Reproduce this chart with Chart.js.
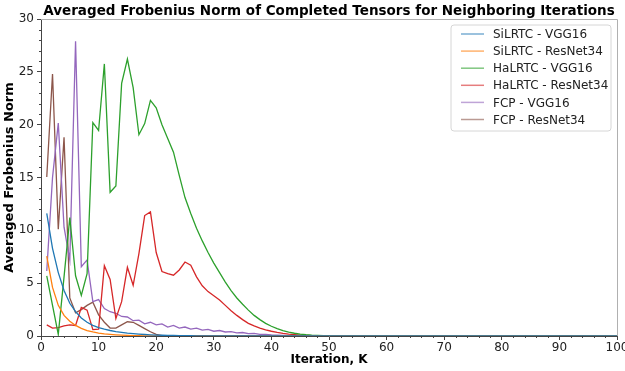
<!DOCTYPE html>
<html>
<head>
<meta charset="utf-8">
<script src="https://cdn.jsdelivr.net/npm/chart.js@4.4.1/dist/chart.umd.min.js"></script>
<style>
  html, body { margin: 0; padding: 0; background: #fff; }
  #wrap { width: 625px; height: 371px; }
</style>
</head>
<body>
<div id="wrap"><canvas id="normChart" width="625" height="371"></canvas></div>
<script>
// Iteration index K
const iterations = [
  1, 2, 3, 4, 5, 6, 7, 8, 9, 10, 11, 12, 13, 14, 15, 16, 17, 18, 19, 20,
  21, 22, 23, 24, 25, 26, 27, 28, 29, 30, 31, 32, 33, 34, 35, 36, 37, 38, 39, 40,
  41, 42, 43, 44, 45, 46, 47, 48, 49, 50, 51, 52, 53, 54, 55, 56, 57, 58, 59, 60,
  61, 62, 63, 64, 65, 66, 67, 68, 69, 70, 71, 72, 73, 74, 75, 76, 77, 78, 79, 80,
  81, 82, 83, 84, 85, 86, 87, 88, 89, 90, 91, 92, 93, 94, 95, 96, 97, 98, 99, 100
];

const silrtcVgg16 = [
  11.6, 8.3, 6.0, 4.3, 3.1, 2.3, 1.7, 1.3, 1.0, 0.8, 0.65, 0.52, 0.42, 0.34, 0.27, 0.22, 0.18, 0.14, 0.11, 0.09,
  0.07, 0.06, 0.05, 0.04, 0.03, 0.025, 0.02, 0.015, 0.01, 0.01, 0, 0, 0, 0, 0, 0, 0, 0, 0, 0,
  0, 0, 0, 0, 0, 0, 0, 0, 0, 0, 0, 0, 0, 0, 0, 0, 0, 0, 0, 0,
  0, 0, 0, 0, 0, 0, 0, 0, 0, 0, 0, 0, 0, 0, 0, 0, 0, 0, 0, 0,
  0, 0, 0, 0, 0, 0, 0, 0, 0, 0, 0, 0, 0, 0, 0, 0, 0, 0, 0, 0
];

const silrtcResNet34 = [
  7.55, 4.6, 2.9, 1.95, 1.4, 1.0, 0.72, 0.52, 0.38, 0.28, 0.2, 0.15, 0.11, 0.08, 0.06, 0.04, 0.03, 0.02, 0.015, 0.01,
  0, 0, 0, 0, 0, 0, 0, 0, 0, 0, 0, 0, 0, 0, 0, 0, 0, 0, 0, 0,
  0, 0, 0, 0, 0, 0, 0, 0, 0, 0, 0, 0, 0, 0, 0, 0, 0, 0, 0, 0,
  0, 0, 0, 0, 0, 0, 0, 0, 0, 0, 0, 0, 0, 0, 0, 0, 0, 0, 0, 0,
  0, 0, 0, 0, 0, 0, 0, 0, 0, 0, 0, 0, 0, 0, 0, 0, 0, 0, 0, 0
];

const halrtcVgg16 = [
  5.7, 2.9, 0.15, 5.6, 11.2, 5.7, 3.85, 5.9, 20.2, 19.45, 25.75, 13.6, 14.2, 23.9, 26.2, 23.5, 19.05, 20.1, 22.3, 21.6,
  20.0, 18.7, 17.4, 15.2, 13.1, 11.6, 10.2, 9.0, 7.9, 6.9, 6.0, 5.1, 4.3, 3.6, 3.0, 2.45, 1.95, 1.55, 1.2, 0.92,
  0.7, 0.5, 0.36, 0.26, 0.18, 0.12, 0.08, 0.06, 0.04, 0.03, 0.02, 0.015, 0.01, 0.01, 0.005, 0, 0, 0, 0, 0,
  0, 0, 0, 0, 0, 0, 0, 0, 0, 0, 0, 0, 0, 0, 0, 0, 0, 0, 0, 0,
  0, 0, 0, 0, 0, 0, 0, 0, 0, 0, 0, 0, 0, 0, 0, 0, 0, 0, 0, 0
];

const halrtcResNet34 = [
  1.05, 0.75, 0.8, 0.95, 1.05, 1.0, 2.7, 2.45, 0.6, 0.65, 6.65, 5.35, 1.65, 3.25, 6.5, 4.8, 7.8, 11.4, 11.75, 7.9,
  6.1, 5.9, 5.75, 6.25, 7.0, 6.7, 5.6, 4.75, 4.2, 3.8, 3.4, 2.9, 2.4, 1.95, 1.55, 1.2, 0.95, 0.75, 0.58, 0.45,
  0.34, 0.25, 0.18, 0.13, 0.09, 0.06, 0.04, 0.03, 0.02, 0.015, 0.01, 0.01, 0.005, 0, 0, 0, 0, 0, 0, 0,
  0, 0, 0, 0, 0, 0, 0, 0, 0, 0, 0, 0, 0, 0, 0, 0, 0, 0, 0, 0,
  0, 0, 0, 0, 0, 0, 0, 0, 0, 0, 0, 0, 0, 0, 0, 0, 0, 0, 0, 0
];

const fcpVgg16 = [
  6.15, 15.0, 20.15, 10.3, 7.2, 27.9, 6.55, 7.2, 3.25, 3.45, 2.6, 2.3, 2.15, 1.85, 1.8, 1.45, 1.5, 1.15, 1.3, 1.05,
  1.15, 0.85, 1.0, 0.75, 0.85, 0.65, 0.75, 0.55, 0.62, 0.45, 0.52, 0.38, 0.42, 0.3, 0.33, 0.22, 0.25, 0.15, 0.16, 0.1,
  0.08, 0.06, 0.04, 0.03, 0.02, 0.01, 0, 0, 0, 0, 0, 0, 0, 0, 0, 0, 0, 0, 0, 0,
  0, 0, 0, 0, 0, 0, 0, 0, 0, 0, 0, 0, 0, 0, 0, 0, 0, 0, 0, 0,
  0, 0, 0, 0, 0, 0, 0, 0, 0, 0, 0, 0, 0, 0, 0, 0, 0, 0, 0, 0
];

const fcpResNet34 = [
  15.05, 24.8, 10.1, 18.8, 3.6, 2.2, 2.5, 2.9, 3.2, 2.0, 1.3, 0.75, 0.75, 1.05, 1.35, 1.3, 1.0, 0.7, 0.4, 0.15,
  0.03, 0.01, 0, 0, 0, 0, 0, 0, 0, 0, 0, 0, 0, 0, 0, 0, 0, 0, 0, 0,
  0, 0, 0, 0, 0, 0, 0, 0, 0, 0, 0, 0, 0, 0, 0, 0, 0, 0, 0, 0,
  0, 0, 0, 0, 0, 0, 0, 0, 0, 0, 0, 0, 0, 0, 0, 0, 0, 0, 0, 0,
  0, 0, 0, 0, 0, 0, 0, 0, 0, 0, 0, 0, 0, 0, 0, 0, 0, 0, 0, 0
];

const seriesNames = [
  "SiLRTC - VGG16", "SiLRTC - ResNet34", "HaLRTC - VGG16",
  "HaLRTC - ResNet34", "FCP - VGG16", "FCP - ResNet34"
];
const seriesValues = [silrtcVgg16, silrtcResNet34, halrtcVgg16, halrtcResNet34, fcpVgg16, fcpResNet34];
const seriesColors = ["#1f77b4", "#ff7f0e", "#2ca02c", "#d62728", "#9467bd", "#8c564b"];

const xTicks = [0, 10, 20, 30, 40, 50, 60, 70, 80, 90, 100];
const yTicks = [0, 5, 10, 15, 20, 25, 30];

const chartTitle = "Averaged Frobenius Norm of Completed Tensors for Neighboring Iterations";

const FONT = "'DejaVu Sans', sans-serif";

// title over the plot, minor ticks, top/right frame and the boxed legend
const extrasPlugin = {
  id: "extras",
  afterDraw(chart) {
    const ctx = chart.ctx;
    const area = chart.chartArea;
    const xs = chart.scales.x;
    const ys = chart.scales.y;
    ctx.save();

    // title, centred on the plot area like matplotlib
    ctx.font = "bold 13.5px " + FONT;
    ctx.fillStyle = "#000";
    ctx.textAlign = "center";
    ctx.textBaseline = "alphabetic";
    ctx.fillText(chartTitle, (area.left + area.right) / 2, 15);

    // frame top & right
    ctx.strokeStyle = "#b0b0b0";
    ctx.lineWidth = 1;
    ctx.beginPath();
    ctx.moveTo(area.left, area.top + 0.5);
    ctx.lineTo(area.right + 0.5, area.top + 0.5);
    ctx.lineTo(area.right + 0.5, area.bottom);
    ctx.stroke();

    // minor ticks
    ctx.strokeStyle = "#444";
    ctx.beginPath();
    for (let v = 2; v < 100; v += 2) {
      if (v % 10 === 0) continue;
      const px = Math.round(xs.getPixelForValue(v)) + 0.5;
      ctx.moveTo(px, area.bottom);
      ctx.lineTo(px, area.bottom + 2);
    }
    for (let v = 1; v < 30; v++) {
      if (v % 5 === 0) continue;
      const py = Math.round(ys.getPixelForValue(v)) + 0.5;
      ctx.moveTo(area.left, py);
      ctx.lineTo(area.left - 2, py);
    }
    ctx.stroke();

    // legend box
    const bx = 451, by = 25, bw = 160, bh = 106, r = 3;
    ctx.fillStyle = "rgba(255,255,255,0.85)";
    ctx.strokeStyle = "#d6d6d6";
    ctx.beginPath();
    ctx.moveTo(bx + r, by);
    ctx.lineTo(bx + bw - r, by);
    ctx.quadraticCurveTo(bx + bw, by, bx + bw, by + r);
    ctx.lineTo(bx + bw, by + bh - r);
    ctx.quadraticCurveTo(bx + bw, by + bh, bx + bw - r, by + bh);
    ctx.lineTo(bx + r, by + bh);
    ctx.quadraticCurveTo(bx, by + bh, bx, by + bh - r);
    ctx.lineTo(bx, by + r);
    ctx.quadraticCurveTo(bx, by, bx + r, by);
    ctx.closePath();
    ctx.fill();
    ctx.stroke();

    ctx.font = "12px " + FONT;
    ctx.textBaseline = "middle";
    ctx.textAlign = "left";
    seriesNames.forEach((name, i) => {
      const y = 34 + i * 17.1;
      ctx.strokeStyle = seriesColors[i];
      ctx.globalAlpha = 0.6;
      ctx.lineWidth = 1.5;
      ctx.beginPath();
      ctx.moveTo(461, y);
      ctx.lineTo(484, y);
      ctx.stroke();
      ctx.globalAlpha = 1;
      ctx.fillStyle = "#222";
      ctx.fillText(name, 493, y + 1);
    });
    ctx.restore();
  },
};

const datasets = seriesNames.map((name, i) => ({
  label: name,
  data: iterations.map((k, j) => ({ x: k, y: seriesValues[i][j] })),
  borderColor: seriesColors[i],
  backgroundColor: seriesColors[i],
  borderWidth: 1.3,
  pointRadius: 0,
  tension: 0,
  fill: false,
}));

const ctx = document.getElementById("normChart").getContext("2d");
new Chart(ctx, {
  type: "line",
  data: { datasets },
  plugins: [extrasPlugin],
  options: {
    responsive: false,
    animation: false,
    layout: { padding: { left: 0, right: 8, top: 19, bottom: 0 } },
    plugins: {
      legend: { display: false },
      tooltip: { enabled: false },
      title: { display: false },
    },
    scales: {
      x: {
        type: "linear",
        min: 0,
        max: 100,
        afterBuildTicks: (s) => { s.ticks = xTicks.map((v) => ({ value: v })); },
        afterFit: (s) => { s.height = 35; s.paddingLeft = 0; s.paddingRight = 0; },
        ticks: { color: "#222", font: { family: FONT, size: 12 }, padding: 1, maxRotation: 0, autoSkip: false },
        grid: { drawOnChartArea: false, drawTicks: true, tickLength: 4, color: "#444" },
        border: { display: true, color: "#444", width: 1 },
        title: {
          display: true,
          text: "Iteration, K",
          color: "#000",
          font: { family: FONT, size: 12, weight: "bold" },
          padding: { top: 0, bottom: 4 },
        },
      },
      y: {
        min: 0,
        max: 30,
        afterBuildTicks: (s) => { s.ticks = yTicks.map((v) => ({ value: v })); },
        afterFit: (s) => { s.width = 41; s.paddingTop = 0; s.paddingBottom = 0; },
        ticks: { color: "#222", font: { family: FONT, size: 12 }, padding: 3 },
        grid: { drawOnChartArea: false, drawTicks: true, tickLength: 4, color: "#444" },
        border: { display: true, color: "#444", width: 1 },
        title: {
          display: true,
          text: "Averaged Frobenius Norm",
          color: "#000",
          font: { family: FONT, size: 13, weight: "bold" },
          padding: { top: 2, bottom: 0 },
        },
      },
    },
  },
});
</script>
</body>
</html>
